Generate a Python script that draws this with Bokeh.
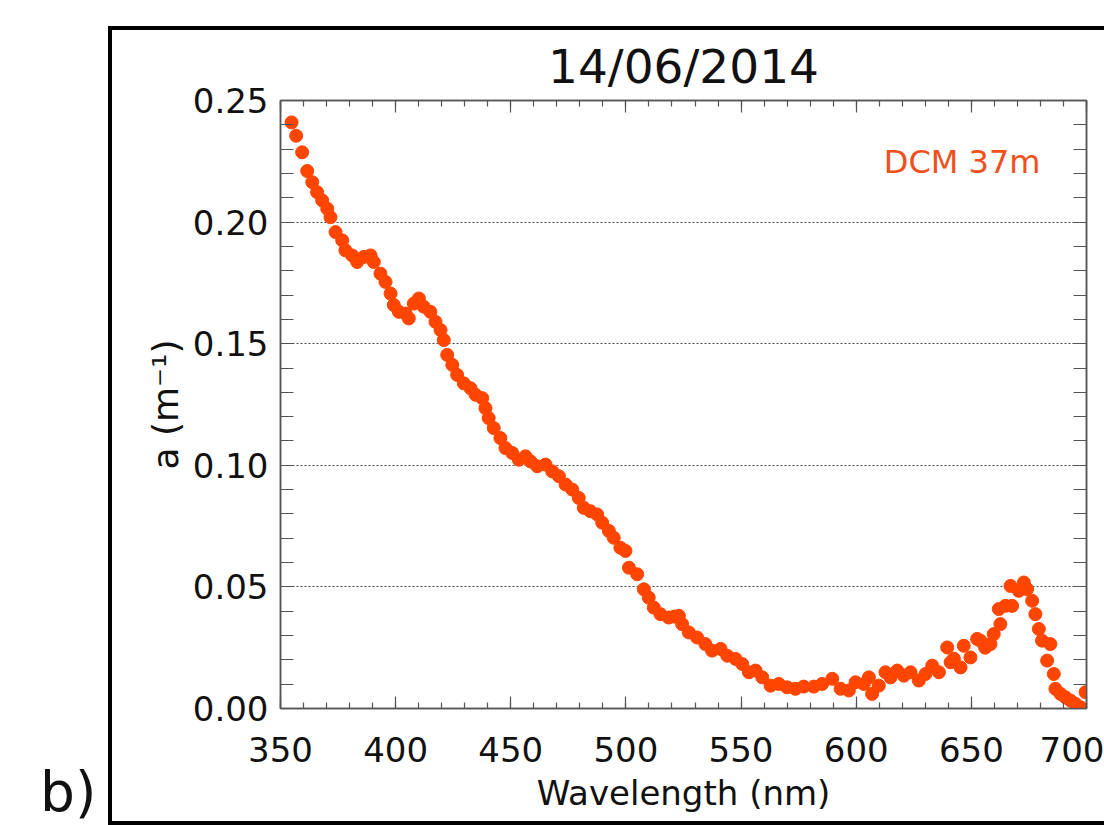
from bokeh.plotting import figure
from bokeh.models import (Range1d, LinearAxis, SingleIntervalTicker, FixedTicker,
                          PrintfTickFormatter, CustomJSTickFormatter, Label, Div)
from bokeh.layouts import row
from bokeh.embed import file_html
from bokeh.resources import INLINE

# ---- data ----
wavelength = [354.8, 356.8, 359.4, 361.6, 363.8, 365.9, 368.1, 370.3, 371.7, 373.9,
              376.8, 378.2, 381.1, 383.3, 386.2, 389.1, 390.5, 393.4, 395.6, 397.8,
              399.2, 401.4, 404.3, 405.7, 407.9, 410.1, 412.2, 415.1, 417.3, 419.5,
              420.9, 422.4, 424.6, 426.7, 429.6, 432.5, 434.7, 437.6, 439.0, 440.4,
              442.6, 445.5, 447.7, 450.6, 453.5, 456.4, 458.6, 461.5, 465.1, 468.0,
              470.9, 473.8, 476.7, 479.5, 481.7, 484.6, 487.5, 489.7, 492.6, 494.7,
              497.6, 499.8, 501.3, 504.9, 507.8, 509.9, 512.1, 515.0, 518.6, 521.0,
              523.0, 524.4, 527.3, 530.9, 534.5, 537.4, 541.1, 544.0, 547.6, 550.5,
              553.4, 556.3, 559.2, 562.8, 566.4, 570.0, 573.6, 577.2, 581.6, 585.2,
              589.6, 593.2, 596.8, 599.7, 603.3, 605.5, 606.9, 609.8, 612.7, 614.9,
              617.8, 620.7, 623.6, 627.2, 630.1, 633.0, 635.9, 639.5, 641.0, 642.4,
              645.3, 646.7, 649.6, 652.5, 653.9, 656.0, 658.3, 659.7, 661.9, 662.6,
              664.8, 667.0, 667.7, 670.6, 672.8, 674.2, 676.4, 677.8, 679.3, 680.7,
              682.9, 684.3, 685.8, 686.5, 688.7, 690.9, 693.0, 695.2, 697.4, 699.6]
absorption = [0.2410, 0.2355, 0.2287, 0.2210, 0.2164, 0.2123, 0.2089, 0.2055, 0.2020, 0.1959,
              0.1925, 0.1884, 0.1863, 0.1836, 0.1857, 0.1863, 0.1836, 0.1788, 0.1754, 0.1706,
              0.1659, 0.1631, 0.1624, 0.1604, 0.1665, 0.1686, 0.1652, 0.1631, 0.1590, 0.1556,
              0.1515, 0.1454, 0.1413, 0.1372, 0.1337, 0.1317, 0.1290, 0.1276, 0.1235, 0.1194,
              0.1153, 0.1112, 0.1071, 0.1051, 0.1023, 0.1037, 0.1016, 0.0996, 0.1003, 0.0975,
              0.0955, 0.0921, 0.0900, 0.0866, 0.0825, 0.0811, 0.0798, 0.0764, 0.0730, 0.0702,
              0.0661, 0.0648, 0.0579, 0.0552, 0.0490, 0.0456, 0.0415, 0.0388, 0.0374, 0.0378,
              0.0381, 0.0347, 0.0313, 0.0292, 0.0265, 0.0238, 0.0245, 0.0217, 0.0204, 0.0183,
              0.0149, 0.0156, 0.0128, 0.0094, 0.0101, 0.0087, 0.0081, 0.0090, 0.0090, 0.0101,
              0.0122, 0.0081, 0.0074, 0.0108, 0.0101, 0.0128, 0.0060, 0.0094, 0.0149, 0.0128,
              0.0156, 0.0135, 0.0149, 0.0115, 0.0142, 0.0176, 0.0149, 0.0251, 0.0190, 0.0205,
              0.0169, 0.0258, 0.0210, 0.0286, 0.0279, 0.0250, 0.0265, 0.0306, 0.0409, 0.0347,
              0.0422, 0.0504, 0.0422, 0.0484, 0.0518, 0.0491, 0.0443, 0.0388, 0.0327, 0.0279,
              0.0197, 0.0265, 0.0142, 0.0081, 0.0060, 0.0046, 0.0033, 0.0019, 0.0005, 0.0067]
title_text = "14/06/2014"
series_label = "DCM 37m"
panel_label = "b)"
x_label = "Wavelength (nm)"
y_label = "a (m\u207b\u00b9)"
grid_levels = [0.05, 0.10, 0.15, 0.20]

FONT = "DejaVu Sans"
AX = "#555555"
DOT = "#FF4500"

p = figure(width=996, height=799, x_range=Range1d(350, 700), y_range=Range1d(0, 0.25),
           output_backend="svg", toolbar_location=None,
           min_border_left=168, min_border_right=22, min_border_top=68, min_border_bottom=121)
p.margin = (26, 0, 0, 0)
p.styles = {"border-top": "4px solid black", "border-left": "4px solid black",
            "border-bottom": "4px solid black"}
p.background_fill_color = "white"
p.border_fill_color = "white"
p.outline_line_color = AX
p.outline_line_width = 1.5

p.title.text = title_text
p.title.align = "center"
p.title.text_font = FONT
p.title.text_font_size = "47px"
p.title.text_font_style = "normal"
p.title.text_color = "#111111"
p.title.standoff = 13

def style_axis(ax, ticker, major_in, minor_in):
    ax.ticker = ticker
    ax.axis_line_color = AX
    ax.axis_line_width = 1.5
    ax.major_tick_line_color = AX
    ax.minor_tick_line_color = AX
    ax.major_tick_line_width = 1.2
    ax.minor_tick_line_width = 1.2
    ax.major_tick_in = major_in
    ax.major_tick_out = 0
    ax.minor_tick_in = minor_in
    ax.minor_tick_out = 0
    ax.major_label_text_font = FONT
    ax.major_label_text_color = "#111111"
    ax.axis_label_text_font = FONT
    ax.axis_label_text_font_style = "normal"
    ax.axis_label_text_color = "#111111"

xa = p.xaxis[0]
style_axis(xa, SingleIntervalTicker(interval=50, num_minor_ticks=5), 12, 6)
xa.major_label_text_font_size = "34px"
xa.major_label_standoff = 28
xa.axis_label = x_label
xa.axis_label_text_font_size = "34px"
xa.axis_label_standoff = 8

ya = p.yaxis[0]
style_axis(ya, SingleIntervalTicker(interval=0.05, num_minor_ticks=5), 13, 13)
ya.formatter = PrintfTickFormatter(format="%.2f")
ya.major_label_text_font_size = "34px"
ya.major_label_standoff = 12
ya.axis_label = y_label
ya.axis_label_text_font_size = "36px"
ya.axis_label_standoff = 4

blank = CustomJSTickFormatter(code="return '';")

top = LinearAxis()
style_axis(top, SingleIntervalTicker(interval=50, num_minor_ticks=5), 12, 6)
top.formatter = blank
top.major_label_text_font_size = "10px"
top.major_label_standoff = 0
p.add_layout(top, "above")

right = LinearAxis()
style_axis(right, SingleIntervalTicker(interval=0.05, num_minor_ticks=5), 13, 13)
right.formatter = blank
right.major_label_text_font_size = "10px"
right.major_label_standoff = 0
p.add_layout(right, "right")

p.xgrid.visible = False
p.ygrid.ticker = FixedTicker(ticks=grid_levels)
p.ygrid.grid_line_color = "#444444"
p.ygrid.grid_line_dash = "2 2"
p.ygrid.grid_line_width = 1

p.scatter(wavelength, absorption, size=13, color=DOT, line_color=DOT)

p.add_layout(Label(x=680, y=0.2246, text=series_label, text_align="right",
                   text_baseline="alphabetic", text_font=FONT, text_font_size="32px",
                   text_color="#F0501A"))

div = Div(text='<div style="margin: 765px 0 0 40px; line-height: 1; font-size: 55px; '
               'font-family: \'DejaVu Sans\'; color: #111111;">' + panel_label + '</div>',
          width=108, height=825, margin=0)

layout = row(div, p)
open("out.html", "w").write(file_html(layout, INLINE))
